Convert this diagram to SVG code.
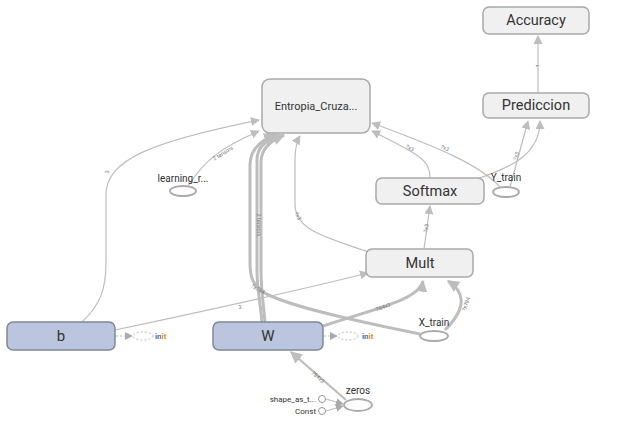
<svg xmlns="http://www.w3.org/2000/svg" width="623" height="428" viewBox="0 0 623 428">
<style>
.op{fill:#f0f0f0;stroke:#a9a9a9;stroke-width:1.5}
.var{fill:#bcc5de;stroke:#7f8799;stroke-width:1.5}
.lbl{font-family:Roboto,"Liberation Sans",sans-serif;fill:#333;text-anchor:middle;dominant-baseline:central}
.ph{fill:none;stroke:#aaa;stroke-width:1.8}
.e{fill:none;stroke:#bdbdbd;stroke-width:1.2}
.t{fill:none;stroke:#bdbdbd;stroke-width:3}
.d{fill:none;stroke:#bbb;stroke-width:1.2;stroke-dasharray:2,2}
.el{font-family:Roboto,"Liberation Sans",sans-serif;font-size:5.5px;fill:#777;text-anchor:middle;dominant-baseline:central}
.init{font-family:Roboto,"Liberation Sans",sans-serif;font-size:8px;font-weight:bold;dominant-baseline:central}
</style>
<defs>
<marker id="a" viewBox="0 0 10 10" refX="9" refY="5" markerWidth="9" markerHeight="9" markerUnits="userSpaceOnUse" orient="auto"><path d="M0,0 L10,5 L0,10 z" fill="#bdbdbd"/></marker>
<marker id="at" viewBox="0 0 10 10" refX="9" refY="5" markerWidth="12" markerHeight="12" markerUnits="userSpaceOnUse" orient="auto"><path d="M0,0 L10,5 L0,10 z" fill="#bdbdbd"/></marker>
<marker id="ad" viewBox="0 0 10 10" refX="9" refY="5" markerWidth="8" markerHeight="8" markerUnits="userSpaceOnUse" orient="auto"><path d="M0,0 L10,5 L0,10 z" fill="#aaa"/></marker>
<linearGradient id="ig" x1="0" x2="1" y1="0" y2="0"><stop offset="0.45" stop-color="#3d6fb6"/><stop offset="0.55" stop-color="#e08a1e"/></linearGradient>
</defs>
<g id="edges">
<path class="e" d="M538 93 L538 36" marker-end="url(#a)"/>
<text class="el" transform="translate(538,66) rotate(-90)">?</text>
<path class="e" d="M82 322 C100 305 106 290 106 262 L106 195 C106 160 150 142 259 120" marker-end="url(#a)"/>
<text class="el" transform="translate(107,172) rotate(-80)">3</text>
<path class="e" d="M188 186 C205 160 220 148 259 131" marker-end="url(#a)"/>
<text class="el" transform="translate(223,153) rotate(-32)">2 tensors</text>
<path class="t" d="M262 322 C260 300 257 290 257 270 L257 160 C257 146 268 139 279 135" marker-end="url(#at)"/>
<path class="t" d="M265 322 C263 300 261 290 261 270 L261 162 C261 148 272 140 284 135" marker-end="url(#at)"/>
<text class="el" transform="translate(259,225) rotate(90)">2 tensors</text>
<path class="t" d="M420 334 C360 322 280 305 260 290 C252 283 250 275 250 262 L250 165 C250 149 262 140 275 135" marker-end="url(#at)"/>
<text class="el" transform="translate(258,289) rotate(30)">?x784</text>
<path class="e" d="M368 252 C330 238 296 232 295 205 L295 160 C295 147 297 141 300 136" marker-end="url(#a)"/>
<text class="el" transform="translate(298,216) rotate(60)">?x3</text>
<path class="e" d="M430 178 C430 160 420 155 372 131" marker-end="url(#a)"/>
<text class="el" transform="translate(410,148) rotate(28)">?x3</text>
<path class="e" d="M500 187 C480 165 440 148 372 123" marker-end="url(#a)"/>
<text class="el" transform="translate(445,148) rotate(26)">?x3</text>
<path class="e" d="M474 180 C510 168 540 155 540 121" marker-end="url(#a)"/>
<path class="e" d="M510 187 L528 121" marker-end="url(#a)"/>
<text class="el" transform="translate(516,156) rotate(-75)">?x3</text>
<path class="e" d="M424 249 L430 206" marker-end="url(#a)"/>
<text class="el" transform="translate(426,228) rotate(-80)">?x3</text>
<path class="e" d="M115 330 C200 312 300 290 368 273" marker-end="url(#a)"/>
<text class="el" transform="translate(240,307) rotate(-10)">3</text>
<path class="t" d="M323 326 C370 310 420 300 423 281" marker-end="url(#at)"/>
<text class="el" transform="translate(383,307) rotate(-20)">784x3</text>
<path class="t" d="M445 330 C470 305 462 290 448 281" marker-end="url(#at)"/>
<text class="el" transform="translate(466,304) rotate(-70)">?x784</text>
<path class="e" style="stroke-width:2.2" d="M346 400 L291 352" marker-end="url(#at)"/>
<text class="el" transform="translate(318,377) rotate(42)">784x3</text>
<path class="e" d="M326 399 L343 404" marker-end="url(#ad)"/>
<path class="e" d="M326 411 L343 406" marker-end="url(#ad)"/>
<path class="d" d="M116 336 L132 336" marker-end="url(#ad)"/>
<path class="d" d="M324 336 L337 336" marker-end="url(#ad)"/>
</g>
<g id="Accuracy"><rect class="op" x="483" y="7" width="106" height="27" rx="6"/><text class="lbl" x="536" y="20.5" font-size="14.5">Accuracy</text></g>
<g id="Prediccion"><rect class="op" x="483" y="93" width="106" height="25" rx="6"/><text class="lbl" x="536" y="105.5" font-size="14.5">Prediccion</text></g>
<g id="Entropia_Cruzada"><rect class="op" x="262" y="79" width="108" height="54" rx="8"/><text class="lbl" x="316" y="106" font-size="11">Entropia_Cruza...</text></g>
<g id="Softmax"><rect class="op" x="376" y="178" width="108" height="26" rx="6"/><text class="lbl" x="430" y="191" font-size="14.5">Softmax</text></g>
<g id="Mult"><rect class="op" x="366" y="249" width="107" height="28" rx="6"/><text class="lbl" x="420" y="263" font-size="14.5">Mult</text></g>
<g id="b"><rect class="var" x="7" y="322" width="108" height="28" rx="6"/><text class="lbl" x="61" y="336" font-size="15">b</text></g>
<g id="b_init"><ellipse cx="143" cy="336" rx="10" ry="4" fill="none" stroke="#bbb" stroke-dasharray="2,2"/><text class="init" x="155" y="336" fill="url(#ig)">init</text></g>
<g id="W"><rect class="var" x="213" y="322" width="110" height="28" rx="6"/><text class="lbl" x="268" y="336" font-size="15">W</text></g>
<g id="W_init"><ellipse cx="348" cy="336" rx="10" ry="4" fill="none" stroke="#bbb" stroke-dasharray="2,2"/><text class="init" x="362" y="336" fill="url(#ig)">init</text></g>
<g id="learning_rate"><ellipse class="ph" cx="183" cy="191" rx="13" ry="5"/><text class="lbl" x="183" y="178" font-size="10">learning_r...</text></g>
<g id="Y_train"><ellipse class="ph" cx="506" cy="192" rx="13" ry="5"/><text class="lbl" x="506" y="177" font-size="10">Y_train</text></g>
<g id="X_train"><ellipse class="ph" cx="434" cy="336" rx="14" ry="5"/><text class="lbl" x="434" y="322" font-size="10">X_train</text></g>
<g id="zeros"><ellipse class="ph" cx="358" cy="405" rx="14" ry="6"/><text class="lbl" x="358" y="390" font-size="10">zeros</text></g>
<g id="shape_as_tensor"><circle cx="322" cy="399" r="3.5" fill="#fff" stroke="#999"/><text class="lbl" x="316" y="399" font-size="8" style="text-anchor:end">shape_as_t...</text></g>
<g id="Const"><circle cx="322" cy="411" r="3.5" fill="#fff" stroke="#999"/><text class="lbl" x="316" y="411" font-size="8" style="text-anchor:end">Const</text></g>
</svg>
